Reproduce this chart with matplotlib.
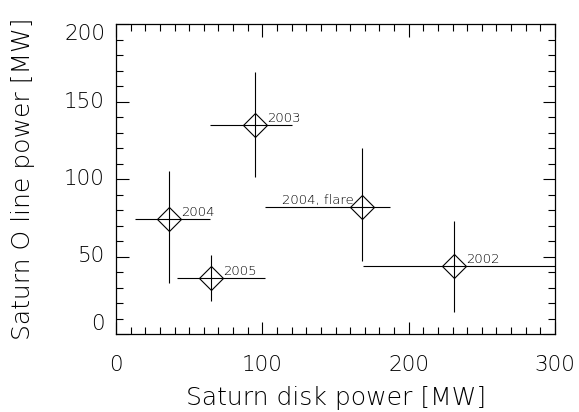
import matplotlib
matplotlib.use("Agg")
import matplotlib.pyplot as plt
from matplotlib.ticker import MultipleLocator, NullFormatter

# observations: disk power vs O line power, with ranges
years = ["2004", "2003", "2005", "2004, flare", "2002"]
disk = [36, 95, 65, 168, 231]
disk_lo = [13, 64, 42, 102, 169]
disk_hi = [64, 120, 102, 187, 330]
oline = [74, 135, 36, 82, 44]
oline_lo = [33, 101, 21, 47, 14]
oline_hi = [105, 169, 51, 120, 73]
yticks = [0, 50, 100, 150, 200]

plt.rcParams['font.family'] = ['DejaVu Sans']
plt.rcParams['font.weight'] = 'light'
fig = plt.figure(figsize=(5.79, 4.12), dpi=100)
ax = fig.add_axes([116/579, 78/412, 439/579, 310/412])

xerr = [[d - lo for d, lo in zip(disk, disk_lo)], [hi - d for d, hi in zip(disk, disk_hi)]]
yerr = [[v - lo for v, lo in zip(oline, oline_lo)], [hi - v for v, hi in zip(oline, oline_hi)]]
ax.errorbar(disk, oline, xerr=xerr, yerr=yerr, fmt='none', ecolor='black', elinewidth=0.8, capsize=0)
ax.plot(disk, oline, 'D', ms=12, mfc='none', mec='black', mew=0.8)

for x, y, lab in zip(disk, oline, years):
    if "flare" in lab:
        ax.annotate(lab, (x, y), xytext=(-6, 5), textcoords='offset points', ha='right', va='center', fontsize=9.5, color='black')
    else:
        ax.annotate(lab, (x, y), xytext=(9, 5), textcoords='offset points', ha='left', va='center', fontsize=9.5, color='black')

ax.set_xlim(0, 300); ax.set_ylim(0, 200)
ax.xaxis.set_major_locator(MultipleLocator(100)); ax.xaxis.set_minor_locator(MultipleLocator(10))
ax.set_yticks(yticks); ax.yaxis.set_minor_locator(MultipleLocator(10))
ax.yaxis.set_major_formatter(NullFormatter())
ax.tick_params(which='both', direction='in', top=True, right=True, width=0.8, labelsize=15.5)
ax.tick_params(axis='x', pad=15)
ax.tick_params(which='major', length=9)
ax.tick_params(which='minor', length=5)
for s in ax.spines.values(): s.set_linewidth(0.9)

# IDL style y labels: end ones pulled inside the box
for v in yticks:
    va = 'top' if v == yticks[-1] else ('bottom' if v == yticks[0] else 'center')
    ax.text(-0.025, v, str(v), transform=ax.get_yaxis_transform(), ha='right', va=va, fontsize=15.5)

ax.set_xlabel("Saturn disk power [MW]", fontsize=18, fontweight='light', labelpad=8)
ax.set_ylabel("Saturn O line power [MW]", fontsize=18, fontweight='light', labelpad=55)
fig.savefig("out.png", dpi=100)
